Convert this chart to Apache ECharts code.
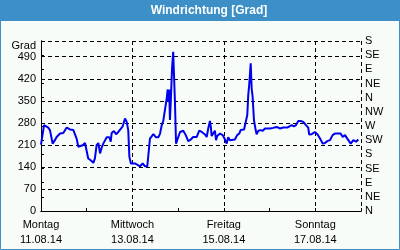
<!DOCTYPE html>
<html>
<head>
<meta charset="utf-8">
<script src="https://cdn.jsdelivr.net/npm/echarts@6/dist/echarts.min.js"></script>
<style>
html,body{margin:0;padding:0;background:#fff;}
#c{width:400px;height:250px;}
</style>
</head>
<body>
<div id="c"></div>
<script>
// hours since Monday 11.08.14 00:00
var hours = [0,0.9,1.6,3.8,4.7,5.6,6.1,7.3,8.2,9.1,10.0,10.9,11.7,13.5,14.3,15.2,17.0,17.8,18.7,19.6,20.5,21.9,23.1,24.0,24.8,26.1,27.5,28.3,29.2,30.1,31.0,31.9,32.7,34.5,35.9,36.6,37.1,38.3,39.4,40.6,41.5,42.9,44.1,45.0,45.8,46.4,47.2,49.3,50.2,52.0,53.4,54.6,55.8,57.2,58.1,59.0,60.4,61.6,62.5,63.4,64.2,65.1,66.0,66.5,66.8,67.3,67.7,68.2,68.8,69.4,69.8,70.3,70.9,71.5,73.0,74.7,76.0,77.3,78.6,79.9,81.7,83.1,84.4,86.1,87.0,87.8,88.7,89.2,89.6,90.4,91.3,91.9,92.5,94.0,95.4,96.6,97.5,98.3,99.2,100.1,101.8,103.0,104.1,104.8,106.6,107.6,108.3,108.8,109.3,110.1,110.6,111.1,111.8,112.7,113.2,114.1,115.3,116.4,117.6,118.8,120.2,121.9,123.7,124.6,125.5,127.2,128.1,129.3,130.3,131.6,132.8,133.9,135.1,136.3,137.7,139.1,140.3,140.8,142.1,143.8,145.2,146.5,147.9,149.1,150.3,151.7,153.1,154.3,156.1,157.3,158.4,159.6,160.8,161.8,162.6,164.0,165.4,166.6];
var windDir = [211,211,273,265,257,230,214,225,235,238,246,244,248,265,269,259,257,257,230,204,202,209,216,220,167,161,153,167,209,216,183,202,214,234,234,220,248,254,244,251,251,269,294,283,257,172,151,151,148,142,151,142,142,230,235,244,234,234,246,273,286,289,358,386,347,386,289,358,453,506,501,352,214,225,251,255,241,222,227,235,235,255,251,243,235,262,286,265,238,238,255,225,238,246,241,227,214,234,225,227,227,241,246,257,259,257,305,368,400,469,389,363,289,257,244,255,257,255,262,262,262,264,267,265,262,265,269,265,259,273,269,273,286,286,283,273,265,243,244,251,243,230,214,216,222,225,241,246,246,246,235,241,230,227,214,225,220,227];
var labelHours = [0,48,96,144];
var dayNames = ['Montag','Mittwoch','Freitag','Sonntag'];
var dates = ['11.08.14','13.08.14','15.08.14','17.08.14'];
var compass = ['N','NE','E','SE','S','SW','W','NW'];
var titleText = 'Windrichtung [Grad]';
var unitName = 'Grad';

var FONT = 'Liberation Sans';
var chart = echarts.init(document.getElementById('c'), null, {renderer:'canvas'});
var dash = {color:'#000', width:1, type:[4,3]};
chart.setOption({
  animation:false,
  backgroundColor:'#f8fcf9',
  textStyle:{fontFamily:FONT},
  grid:{left:41, right:39, top:41, bottom:39, containLabel:false},
  graphic:[
    {type:'rect', shape:{x:0,y:0,width:400,height:21}, style:{fill:'#3d8fc7'}, z:0},
    {type:'rect', shape:{x:0.5,y:0.5,width:399,height:249}, style:{fill:'none', stroke:'#3d8fc7', lineWidth:1}, z:0},
    {type:'text', x:209, y:11, style:{text:titleText, fill:'#fff', font:'bold 12px "Liberation Sans"', textAlign:'center', textVerticalAlign:'middle'}, z:10}
  ],
  xAxis:[
    {type:'value', position:'bottom', min:0, max:168, interval:24,
     axisLine:{show:true, lineStyle:{color:'#000', width:1}},
     axisTick:{show:true, inside:true, length:3, lineStyle:{color:'#000'}},
     splitLine:{show:false},
     axisLabel:{margin:6, color:'#000', fontSize:11, fontFamily:FONT, lineHeight:15,
       formatter:function(v){var i=labelHours.indexOf(v); return i<0?'':dayNames[i]+'\n'+dates[i];}}
    },
    {type:'value', position:'top', min:0, max:168, interval:48,
     axisLine:{show:true, lineStyle:{color:'#000', width:1}},
     axisTick:{show:false}, axisLabel:{show:false},
     splitLine:{show:true, lineStyle:dash}
    }
  ],
  yAxis:[
    {type:'value', position:'left', min:0, max:540, interval:70,
     name:unitName, nameLocation:'end', nameGap:-6,
     nameTextStyle:{color:'#000', fontSize:11, fontFamily:FONT, align:'right', verticalAlign:'middle', padding:[0,5,0,0]},
     axisLine:{show:true, lineStyle:{color:'#000', width:1}},
     axisTick:{show:false},
     splitLine:{show:true, lineStyle:dash},
     axisLabel:{margin:5, color:'#000', fontSize:11, fontFamily:FONT, formatter:function(v){return v>490?'':String(v);}}
    },
    {type:'value', position:'right', min:0, max:540, interval:45,
     axisLine:{show:true, lineStyle:{color:'#000', width:1}},
     axisTick:{show:true, inside:false, length:3, lineStyle:{color:'#000'}},
     splitLine:{show:false},
     axisLabel:{margin:4, color:'#000', fontSize:11, fontFamily:FONT, formatter:function(v){return compass[Math.round(v/45)%8];}}
    }
  ],
  series:[{
    type:'line', xAxisIndex:0, yAxisIndex:0,
    data: hours.map(function(h,i){return [h, windDir[i]];}),
    showSymbol:false, symbol:'none',
    lineStyle:{color:'#0000ee', width:2},
    z:5
  }]
});
</script>
</body>
</html>
